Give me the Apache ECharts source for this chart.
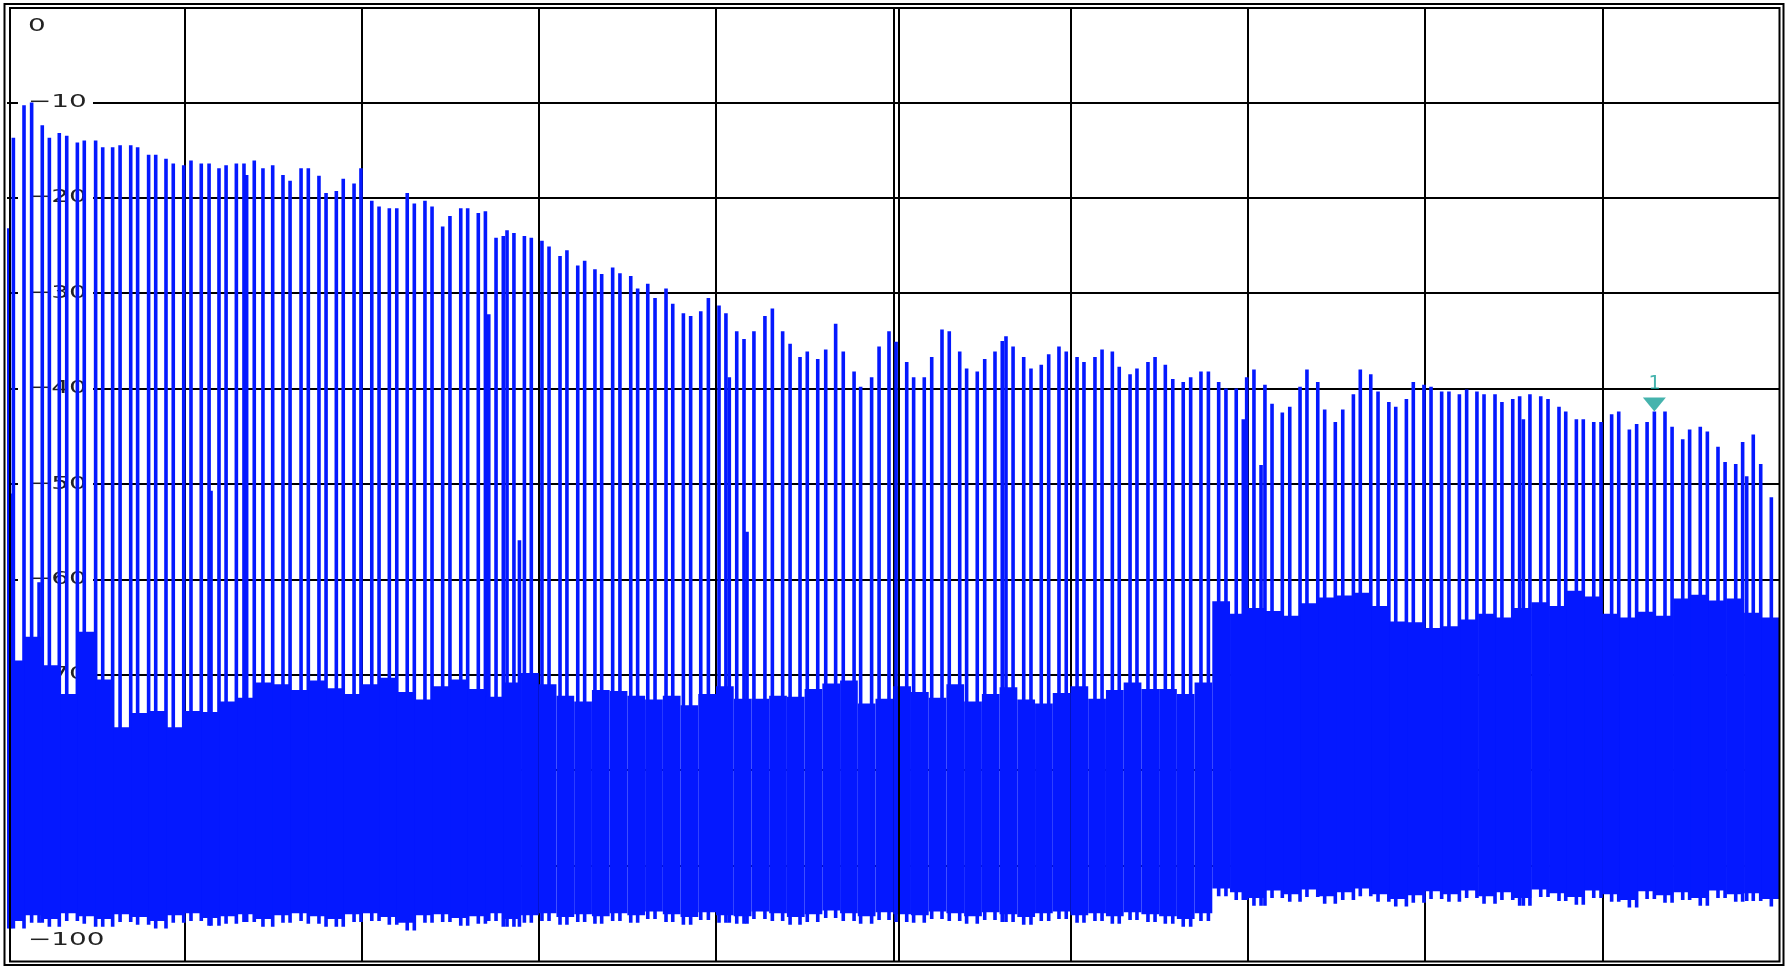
<!DOCTYPE html>
<html>
<head>
<meta charset="utf-8">
<script src="https://cdn.jsdelivr.net/npm/echarts@6/dist/echarts.min.js"></script>
<style>html,body{margin:0;padding:0;background:#fff}#c{width:1789px;height:966px}</style>
</head>
<body>
<div id="c"></div>
<script>
// Frequency position (0..1000, 10 divisions) and level (dB) of every spectral line
const spikeX = [
  0.6, 2.0, 3.6, 9.6, 13.9, 18.1, 19.9, 23.9, 29.5, 33.7,
  39.7, 43.6, 50.0, 54.0, 59.6, 63.8, 69.8, 73.7, 79.9, 83.9,
  89.7, 93.8, 99.7, 103.8, 109.6, 114.0, 115.1, 119.6, 123.6, 129.4,
  133.7, 135.2, 139.5, 144.4, 149.9, 155.7, 159.7, 165.9, 170.0, 176.0,
  180.0, 185.8, 189.7, 195.8, 199.7, 205.8, 209.9, 215.7, 219.9, 225.8,
  229.8, 235.8, 239.8, 245.8, 249.9, 256.0, 259.9, 265.9, 269.9, 271.8,
  275.9, 280.0, 282.1, 286.0, 289.1, 291.9, 295.8, 301.8, 305.8, 312.0,
  315.9, 322.0, 325.9, 331.7, 335.5, 341.7, 345.8, 351.9, 355.8, 361.5,
  365.6, 371.8, 375.6, 381.6, 385.7, 391.4, 395.7, 401.7, 405.6, 407.5,
  411.7, 415.8, 417.5, 421.4, 427.6, 431.8, 437.6, 441.8, 447.4, 451.5,
  457.4, 461.9, 467.5, 471.8, 477.9, 481.6, 487.8, 492.0, 497.6, 501.6,
  507.6, 511.5, 517.5, 521.7, 527.5, 531.6, 537.5, 541.4, 547.4, 551.6,
  557.4, 561.5, 563.6, 567.6, 573.6, 577.7, 583.5, 587.7, 593.5, 597.6,
  603.7, 607.6, 613.8, 617.8, 623.6, 627.5, 633.6, 637.5, 643.7, 647.7,
  653.5, 657.7, 663.6, 667.8, 673.6, 677.8, 683.6, 687.7, 693.5, 697.5,
  699.4, 703.5, 707.5, 709.7, 713.7, 719.5, 723.7, 729.5, 733.4, 739.5,
  743.4, 749.4, 753.6, 759.6, 763.5, 769.4, 773.5, 779.6, 783.5, 789.5,
  793.4, 799.4, 803.4, 809.4, 813.5, 819.4, 823.5, 829.3, 833.3, 839.5,
  843.4, 849.5, 853.4, 855.5, 859.2, 865.3, 869.4, 875.6, 879.4, 885.4,
  889.3, 895.2, 899.3, 905.3, 909.3, 915.3, 919.4, 925.3, 929.4, 935.4,
  939.4, 945.4, 949.3, 955.3, 959.3, 965.3, 969.3, 975.3, 979.2, 981.5,
  985.2, 989.4, 995.4
];
const spikeDb = [
  -23.2, -51.0, -13.7, -10.3, -10.0, -60.3, -12.4, -13.7, -13.2, -13.5,
  -14.2, -14.0, -14.0, -14.7, -14.7, -14.5, -14.5, -14.7, -15.5, -15.5,
  -15.9, -16.4, -16.6, -16.1, -16.4, -16.4, -50.7, -16.9, -16.6, -16.4,
  -16.4, -17.6, -16.1, -16.9, -16.6, -17.6, -18.2, -16.9, -16.9, -17.7,
  -19.5, -19.3, -18.0, -18.5, -16.9, -20.3, -20.9, -21.1, -21.1, -19.5,
  -20.6, -20.3, -20.9, -23.0, -21.9, -21.1, -21.1, -21.6, -21.4, -32.2,
  -24.2, -24.0, -23.4, -23.7, -55.9, -24.0, -24.2, -24.5, -25.1, -26.1,
  -25.5, -27.1, -26.6, -27.5, -28.0, -27.3, -27.9, -28.2, -29.5, -29.0,
  -30.5, -29.5, -31.1, -32.1, -32.4, -31.9, -30.5, -31.3, -32.1, -38.8,
  -34.0, -34.8, -55.0, -34.0, -32.4, -31.6, -34.0, -35.3, -36.7, -36.1,
  -36.9, -35.9, -33.2, -36.1, -38.2, -39.8, -38.8, -35.6, -34.0, -35.1,
  -37.2, -38.8, -38.8, -36.7, -33.8, -34.0, -36.1, -37.9, -38.2, -36.9,
  -36.1, -35.0, -34.5, -35.6, -36.7, -37.9, -37.5, -36.4, -35.6, -36.1,
  -36.7, -37.2, -36.7, -35.9, -36.1, -37.7, -38.5, -37.9, -37.2, -36.7,
  -37.5, -39.0, -39.3, -38.8, -38.2, -38.2, -39.3, -40.0, -40.0, -43.2,
  -38.8, -38.0, -48.0, -39.6, -41.6, -42.5, -41.9, -39.8, -38.0, -39.3,
  -42.2, -43.5, -42.2, -40.6, -38.0, -38.5, -40.3, -41.4, -41.9, -41.1,
  -39.3, -39.6, -39.8, -40.3, -40.3, -40.6, -40.1, -40.3, -40.6, -40.6,
  -41.4, -41.1, -40.8, -43.2, -40.6, -40.8, -41.1, -41.9, -42.4, -43.2,
  -43.2, -43.5, -43.5, -42.7, -42.4, -44.3, -43.7, -43.5, -42.4, -42.4,
  -44.0, -45.3, -44.3, -44.0, -44.5, -46.1, -47.7, -47.9, -45.6, -49.2,
  -44.8, -47.9, -51.4
];
// Noise floor band, one value per 10-unit bin (upper and lower edge, dB)
const noiseTop = [
  -68.5, -66.0, -69.0, -72.0, -65.5, -70.5, -75.5, -74.0, -73.8, -75.5,
  -73.8, -73.9, -72.8, -72.4, -70.8, -71.0, -71.6, -70.6, -71.4, -72.0,
  -71.0, -70.3, -71.8, -72.6, -71.2, -70.5, -71.5, -72.3, -70.8, -69.8,
  -71.0, -72.2, -72.8, -71.6, -71.7, -72.2, -72.6, -72.2, -73.2, -72.0,
  -71.2, -72.5, -72.5, -72.2, -72.3, -71.5, -70.9, -70.6, -73.0, -72.5,
  -71.2, -71.8, -72.4, -71.0, -72.8, -72.0, -71.3, -72.6, -73.0, -71.9,
  -71.2, -72.5, -71.6, -70.8, -71.5, -71.5, -72.0, -70.8, -62.3, -63.6,
  -63.0, -63.3, -63.8, -62.5, -61.9, -61.7, -61.4, -62.8, -64.4, -64.5,
  -65.1, -64.9, -64.2, -63.6, -64.0, -63.0, -62.4, -62.8, -61.2, -61.8,
  -63.6, -64.0, -63.4, -63.8, -62.0, -61.6, -62.2, -62.0, -63.5, -64.0
];
const noiseBot = [
  -95.8, -95.2, -95.6, -95.0, -95.3, -95.6, -95.1, -95.4, -95.8, -95.2,
  -95.0, -95.5, -95.3, -95.1, -95.6, -95.2, -95.0, -95.3, -95.6, -95.1,
  -95.0, -95.4, -96.0, -95.2, -95.1, -95.5, -95.3, -95.0, -95.6, -95.2,
  -95.0, -95.4, -95.1, -95.3, -95.0, -95.2, -94.8, -95.1, -95.4, -94.9,
  -95.2, -95.3, -94.8, -95.0, -95.4, -95.1, -94.7, -95.0, -95.3, -94.9,
  -95.1, -95.2, -94.8, -95.0, -95.3, -94.9, -95.1, -95.4, -95.0, -94.8,
  -95.2, -95.0, -95.3, -94.9, -95.1, -95.3, -95.6, -95.0, -92.4, -92.8,
  -93.4, -92.6, -93.0, -92.5, -93.2, -92.8, -92.4, -93.0, -93.5, -93.1,
  -92.7, -93.0, -92.6, -93.2, -92.8, -93.4, -92.5, -92.9, -93.3, -92.6,
  -93.0, -93.6, -92.7, -93.1, -92.8, -93.4, -92.6, -93.0, -92.9, -93.5
];
const yTicks = [0, -10, -20, -30, -40, -50, -60, -70, -80, -90, -100];
const yTickLabels = ['0', '\u221210', '\u221220', '\u221230', '\u221240', '\u221250', '\u221260', '\u221270', '\u221280', '\u221290', '\u2212100'];
const labelX = [6.2];
const markerX = [929.4];
const markerDb = [-42.4];
const markerLabel = ['1'];
const refLineX = [503.2];

const BLUE = '#0418ff';
const TEAL = '#16a098';

const binWidth = 10;
const noiseData = noiseTop.map((t, i) => [i * binWidth, (i + 1) * binWidth, t, noiseBot[i]]);
const spikeData = spikeX.map((x, i) => {
  const bin = Math.min(noiseBot.length - 1, Math.floor(x / binWidth));
  return [x, spikeDb[i], noiseBot[bin] - 0.8];
});
const labelData = yTicks.map(v => [labelX[0], v]);

const chart = echarts.init(document.getElementById('c'), null, { renderer: 'canvas' });
chart.setOption({
  animation: false,
  backgroundColor: '#ffffff',
  grid: { left: 7, top: 7, width: 1772.5, height: 954, show: false },
  xAxis: {
    type: 'value', min: 0, max: 1000, interval: 100,
    axisLine: { show: false }, axisTick: { show: false }, axisLabel: { show: false },
    splitLine: { show: true, showMinLine: false, showMaxLine: false, lineStyle: { color: '#000', width: 2 } }
  },
  yAxis: {
    type: 'value', min: -100, max: 0, interval: 10,
    axisLine: { show: false }, axisTick: { show: false }, axisLabel: { show: false },
    splitLine: { show: true, showMinLine: false, showMaxLine: false, lineStyle: { color: '#000', width: 2 } }
  },
  graphic: [
    { type: 'rect', z: 100, silent: true, shape: { x: 4.5, y: 4, width: 1779, height: 961 }, style: { fill: null, stroke: '#000', lineWidth: 2 } },
    { type: 'rect', z: 100, silent: true, shape: { x: 10, y: 8, width: 1769.5, height: 953.5 }, style: { fill: null, stroke: '#000', lineWidth: 2 } }
  ],
  series: [
    {
      type: 'custom', z: 1, silent: true, clip: false,
      data: labelData,
      encode: { x: 0, y: 1 },
      renderItem: (params, api) => {
        const i = params.dataIndex;
        const p = api.coord([api.value(0), api.value(1)]);
        const dy = i === 0 ? 19 : (i === yTicks.length - 1 ? -21 : 0);
        const txt = yTickLabels[i];
        const w = txt.length * 19 + 18;
        return {
          type: 'group',
          children: [
            { type: 'rect', shape: { x: p[0], y: p[1] + dy - 8, width: w, height: 16 }, style: { fill: '#ffffff' } },
            {
              type: 'text', x: p[0] + 10, y: p[1] + dy, scaleX: 1.55,
              style: {
                text: txt, fill: '#222222', font: '18px "DejaVu Sans"',
                align: 'left', verticalAlign: 'middle', textAlign: 'left', textVerticalAlign: 'middle'
              }
            }
          ]
        };
      }
    },
    {
      type: 'custom', z: 2, silent: true, clip: true,
      data: spikeData,
      encode: { x: 0, y: [1, 2] },
      renderItem: (params, api) => {
        const p = api.coord([api.value(0), api.value(1)]);
        const b = api.coord([api.value(0), api.value(2)]);
        return { type: 'rect', shape: { x: p[0] - 1.8, y: p[1], width: 3.6, height: b[1] - p[1] }, style: { fill: BLUE } };
      },
      markLine: {
        silent: true, symbol: 'none', label: { show: false },
        lineStyle: { color: '#000', width: 2, type: 'solid' },
        data: refLineX.map(x => ({ xAxis: x }))
      }
    },
    {
      type: 'custom', z: 4, silent: true, clip: true,
      data: noiseData,
      encode: { x: [0, 1], y: [2, 3] },
      renderItem: (params, api) => {
        const a = api.coord([api.value(0), api.value(2)]);
        const b = api.coord([api.value(1), api.value(3)]);
        return { type: 'rect', shape: { x: a[0], y: a[1], width: b[0] - a[0], height: b[1] - a[1] }, style: { fill: BLUE } };
      }
    },
    {
      type: 'scatter', z: 6, silent: true,
      data: markerX.map((x, i) => [x, markerDb[i]]),
      symbol: 'path://M0,0 L23,0 L11.5,14 Z',
      symbolSize: [23, 14], symbolOffset: [0, -7],
      itemStyle: { color: TEAL },
      label: {
        show: true, position: 'top', distance: 4,
        formatter: p => markerLabel[p.dataIndex],
        color: TEAL, fontFamily: 'DejaVu Sans Mono', fontSize: 20
      }
    }
  ]
});
</script>
</body>
</html>
